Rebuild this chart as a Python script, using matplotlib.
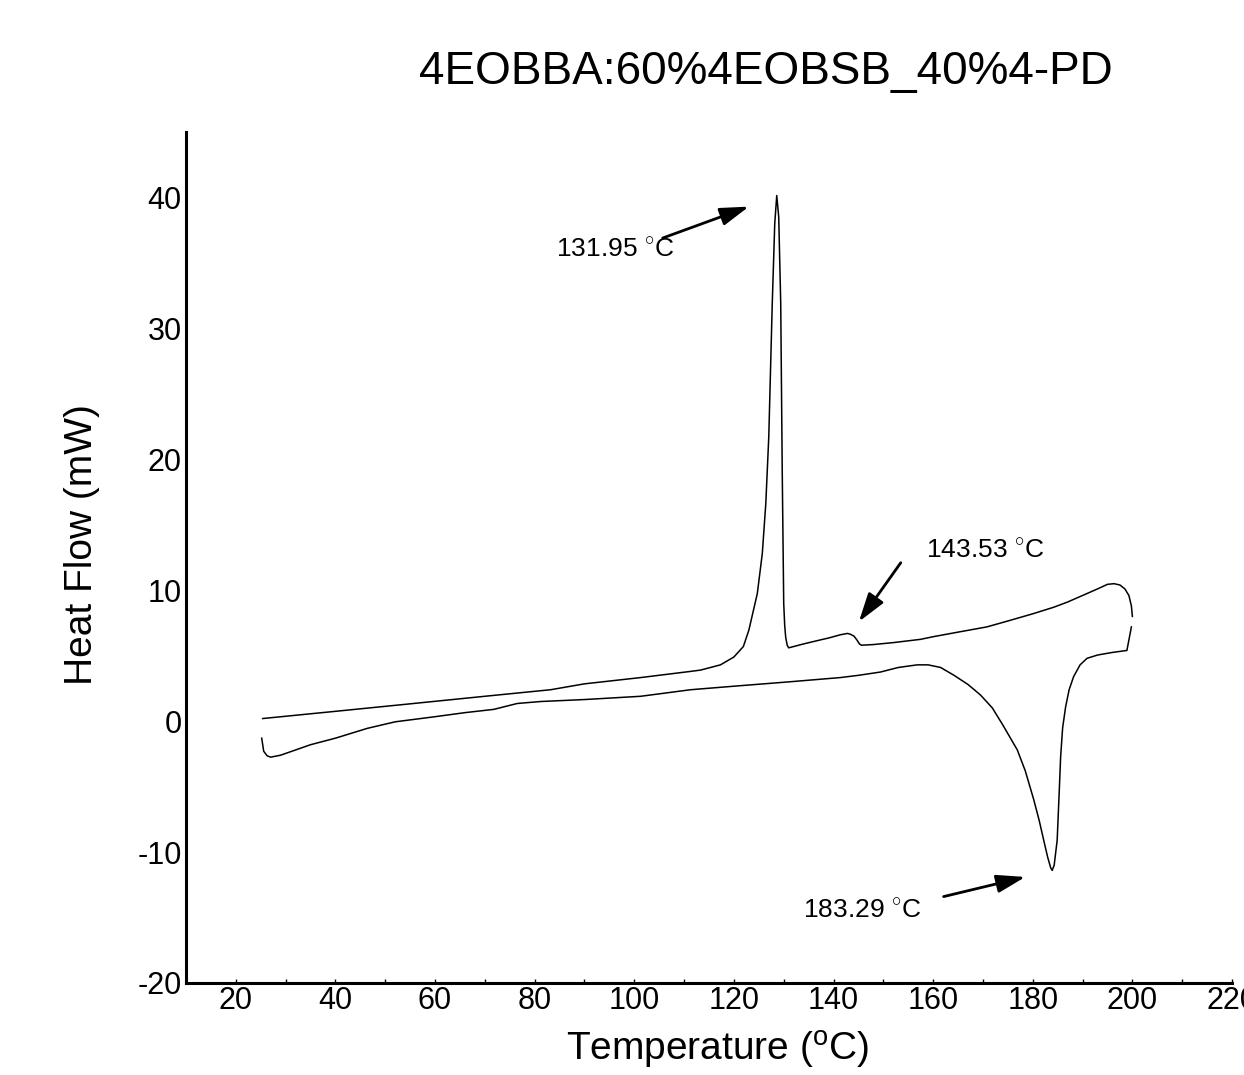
import numpy as np
import matplotlib
matplotlib.use("Agg")
import matplotlib.pyplot as plt

plt.rcParams['font.family'] = ['Liberation Sans', 'DejaVu Sans']
plt.rcParams['mathtext.fontset'] = 'custom'
plt.rcParams['mathtext.rm'] = 'Liberation Sans'
plt.rcParams['axes.unicode_minus'] = False

# heating run (lower trace), temperature in C, heat flow in mW
heat_T = [25.2, 25.6, 26.3, 27.0, 29.0, 32.0, 35.0, 40.0, 46.4, 52.0, 59.8, 66.0,
          71.8, 76.5, 81.2, 90.0, 101.3, 111.3, 121.0, 131.0, 141.4, 145.0, 149.4,
          153.0, 156.8, 159.0, 161.5, 164.2, 167.0, 169.5, 171.9, 174.0, 176.9,
          178.5, 180.2, 181.3, 182.2, 183.0, 183.6, 183.9, 184.3, 184.9, 185.3,
          185.6, 186.0, 186.6, 187.3, 188.2, 189.5, 190.9, 193.0, 196.0, 198.9,
          199.3, 199.8]
heat_Q = [-1.3, -2.3, -2.65, -2.75, -2.6, -2.2, -1.8, -1.3, -0.55, -0.05, 0.33, 0.65,
          0.9, 1.35, 1.5, 1.65, 1.9, 2.4, 2.7, 3.0, 3.33, 3.5, 3.75,
          4.1, 4.3, 4.3, 4.1, 3.5, 2.8, 2.0, 1.0, -0.3, -2.2,
          -3.8, -6.0, -7.6, -9.1, -10.4, -11.2, -11.4, -11.0, -9.1, -5.5,
          -2.7, -0.5, 1.1, 2.4, 3.4, 4.3, 4.8, 5.05, 5.25, 5.4,
          6.2, 7.2]

# cooling run (upper trace)
cool_T = [200.0, 199.8, 199.3, 198.5, 197.5, 196.3, 195.0, 193.0, 190.0, 187.0,
          184.2, 180.0, 175.0, 170.8, 165.0, 160.0, 157.5, 152.0, 148.0, 145.6,
          145.2, 144.7, 144.1, 143.3, 142.8, 141.4, 139.0, 137.3, 134.0, 131.5,
          131.0, 130.7, 130.4, 130.2, 130.0, 129.7, 129.4, 129.0, 128.6, 128.2,
          127.7, 127.0, 126.4, 125.7, 124.7, 123.0, 121.9, 120.0, 117.3,
          113.3, 111.3, 101.3, 90.0, 83.2, 70.0, 53.1, 41.3, 25.4]
cool_Q = [8.0, 8.8, 9.6, 10.1, 10.4, 10.5, 10.45, 10.1, 9.6, 9.1,
          8.7, 8.2, 7.65, 7.2, 6.8, 6.45, 6.25, 6.0, 5.85, 5.8,
          5.9, 6.2, 6.5, 6.65, 6.7, 6.6, 6.35, 6.2, 5.9, 5.65,
          5.6, 5.8, 6.4, 7.3, 9.0, 19.2, 31.9, 38.5, 40.15, 38.0,
          31.9, 21.7, 16.6, 12.8, 9.75, 6.95, 5.7, 4.9, 4.3,
          3.9, 3.8, 3.33, 2.85, 2.4, 1.9, 1.25, 0.8, 0.2]

# peak labels: text, text position, arrow tail, arrow head
labels = ["131.95 $^{\\circ}$C", "143.53 $^{\\circ}$C", "183.29 $^{\\circ}$C"]
label_xy = [(96.1, 36.0), (170.5, 13.0), (145.8, -14.5)]
arrow_tail = [(105.7, 36.9), (153.5, 12.1), (162.1, -13.4)]
arrow_head = [(123.0, 39.3), (145.1, 7.6), (178.5, -11.9)]

fig = plt.figure(figsize=(12.44, 10.75), dpi=100)
ax = fig.add_axes([186 / 1244, 92 / 1075, (1232 - 186) / 1244, (983 - 132) / 1075])

ax.plot(heat_T, heat_Q, color='k', lw=1.1)
ax.plot(cool_T, cool_Q, color='k', lw=1.1)

for txt, pos, tail, head in zip(labels, label_xy, arrow_tail, arrow_head):
    ax.text(pos[0], pos[1], txt, fontsize=19, ha='center', va='center')
    ax.annotate("", xy=head, xytext=tail,
                arrowprops=dict(arrowstyle='-|>,head_length=0.7,head_width=0.22',
                                lw=2, color='k', mutation_scale=25,
                                shrinkA=0, shrinkB=0))

ax.set_xlim(10, 220)
ax.set_ylim(-20, 45)
ax.set_xticks(np.arange(20, 221, 20))
ax.set_xticks(np.arange(10, 221, 10), minor=True)
ax.set_yticks(np.arange(-20, 41, 10))
ax.tick_params(axis='both', which='both', direction='in', length=3, width=1,
               labelsize=22, pad=2)
ax.tick_params(axis='y', length=0, pad=3)

for side in ['top', 'right']:
    ax.spines[side].set_visible(False)
for side in ['left', 'bottom']:
    ax.spines[side].set_linewidth(2.2)

fig.text(766 / 1244, 1 - 72 / 1075, "4EOBBA:60%4EOBSB_40%4-PD", fontsize=33,
         ha='center', va='center')
fig.text(718 / 1244, 1 - 1050 / 1075, "Temperature ($^{\\mathrm{o}}$C)", fontsize=28,
         ha='center', va='center')
fig.text(82 / 1244, 1 - 545 / 1075, "Heat Flow (mW)", fontsize=28,
         ha='center', va='center', rotation=90)

fig.savefig("out.png", dpi=100)
